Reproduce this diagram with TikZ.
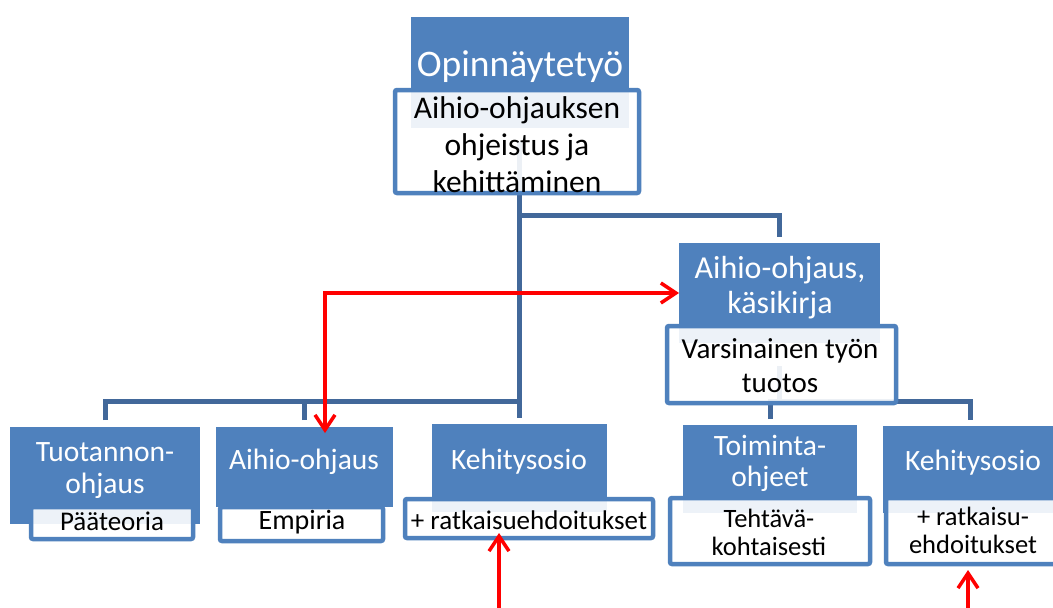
\documentclass[tikz,border=0pt]{standalone}
\usepackage{fontspec}
\setmainfont{Carlito}
\usetikzlibrary{arrows.meta,calc}
\pgfdeclarelayer{background}
\pgfsetlayers{background,main}
\definecolor{sablue}{HTML}{4F81BD}
\definecolor{conncol}{HTML}{42689A}
\tikzset{
 bluebox/.style={fill=sablue, draw=none, inner sep=0pt, outer sep=0pt, anchor=north west},
 labelbox/.style={fill=white, fill opacity=0.9, draw=sablue, line width=4.5pt, rounded corners=2pt, inner sep=0pt, outer sep=0pt, anchor=north west},
 ttl/.style={text=white, align=center, inner sep=0pt},
 lbl/.style={text=black, align=center, inner sep=0pt},
 conn/.style={draw=conncol, line width=5pt},
 redline/.style={draw=red, line width=3.5pt},
 >={Straight Barb[length=15pt,width=20pt]},
}
\begin{document}
\begin{tikzpicture}[x=1pt,y=-1pt]
\useasboundingbox (0,0) rectangle (1053,608);
% top
\node[bluebox, minimum width=218pt, minimum height=111pt] (topB) at (411,17) {};
\node[labelbox, minimum width=244pt, minimum height=103pt] (topL) at (395,90) {};
\node[ttl, font=\fontsize{37.5}{40}\selectfont] (topT) at (520,67) {Opinnäytetyö};
\node[lbl, font=\fontsize{31.5}{37}\selectfont] (topX) at (517,145) {Aihio-ohjauksen\\ohjeistus ja\\kehittäminen};
% right middle
\node[bluebox, minimum width=201pt, minimum height=100pt] (kasB) at (679,243) {};
\node[labelbox, minimum width=229pt, minimum height=77pt] (kasL) at (667,326) {};
\node[ttl, font=\fontsize{32}{35}\selectfont] (kasT) at (780,288) {Aihio-ohjaus,\\käsikirja};
\node[lbl, font=\fontsize{29}{34}\selectfont] (kasX) at (780,366) {Varsinainen työn\\tuotos};
% bottom row
\node[bluebox, minimum width=190pt, minimum height=97pt] (tuoB) at (10,427) {};
\node[labelbox, minimum width=162pt, minimum height=32pt] (tuoL) at (31,507) {};
\node[ttl, font=\fontsize{29.5}{32}\selectfont] (tuoT) at (105,471) {Tuotannon-\\ohjaus};
\node[lbl, font=\fontsize{27}{30}\selectfont] (tuoX) at (112,521) {Pääteoria};

\node[bluebox, minimum width=177pt, minimum height=80pt] (aihB) at (216,427) {};
\node[labelbox, minimum width=163pt, minimum height=34pt] (aihL) at (220,507) {};
\node[ttl, font=\fontsize{29.5}{32}\selectfont] (aihT) at (304,462) {Aihio-ohjaus};
\node[lbl, font=\fontsize{28}{30}\selectfont] (aihX) at (302,522) {Empiria};

\node[bluebox, minimum width=175pt, minimum height=88pt] (kehB) at (432,424) {};
\node[labelbox, minimum width=248pt, minimum height=39pt] (kehL) at (405,499) {};
\node[ttl, font=\fontsize{29.5}{32}\selectfont] (kehT) at (519,462) {Kehitysosio};
\node[lbl, font=\fontsize{27}{30}\selectfont] (kehX) at (529,520) {+ ratkaisuehdoitukset};

\node[bluebox, minimum width=174pt, minimum height=88pt] (toiB) at (683,425) {};
\node[labelbox, minimum width=200pt, minimum height=66pt] (toiL) at (670,498) {};
\node[ttl, font=\fontsize{29.5}{31}\selectfont] (toiT) at (770,463) {Toiminta-\\ohjeet};
\node[lbl, font=\fontsize{26.5}{28}\selectfont] (toiX) at (769,532) {Tehtävä-\\kohtaisesti};

\node[bluebox, minimum width=175pt, minimum height=87pt] (khrB) at (883,426) {};
\node[labelbox, minimum width=180pt, minimum height=66pt] (khrL) at (886,498) {};
\node[ttl, font=\fontsize{29.5}{32}\selectfont] (khrT) at (973,463) {Kehitysosio};
\node[lbl, font=\fontsize{26.5}{28}\selectfont] (khrX) at (973,530) {+ ratkaisu-\\ehdoitukset};

% connectors
\coordinate (bus) at (0,401);
\coordinate (brY) at (0,215);
\begin{pgfonlayer}{background}
\fill[white] (0,0) rectangle (1053,608);
\draw[conn] (topL.center -| kehB.north) -- ($(kehB.north)+(0,-6)$);
\draw[conn] ($(tuoB.north)+(0,-7)$) |- (bus -| kehB.north);
\draw[conn] ($(aihB.north)+(0,-7)$) -- (aihB.north |- bus);
\draw[conn] (brY -| kehB.north) -| ($(kasB.north)+(0,-6)$);
\draw[conn] (kasX.center -| kasB.north) -- (kasB.north |- bus);
\draw[conn] ($(toiB.north)+(0,-6)$) |- (bus -| khrB.north) -- ($(khrB.north)+(0,-6)$);
\end{pgfonlayer}
% red arrows
\coordinate (rc) at (325,293);
\draw[redline, <->] ($(aihB.north west)+(109,6)$) -- (rc) -- (rc -| kasB.west);
\draw[redline, ->] ($(kehL.south)+(-30,70)$) -- ($(kehL.south)+(-30,-5)$);
\draw[redline, ->] ($(khrL.south west)+(82,44)$) -- ($(khrL.south west)+(82,6)$);
\end{tikzpicture}
\end{document}
